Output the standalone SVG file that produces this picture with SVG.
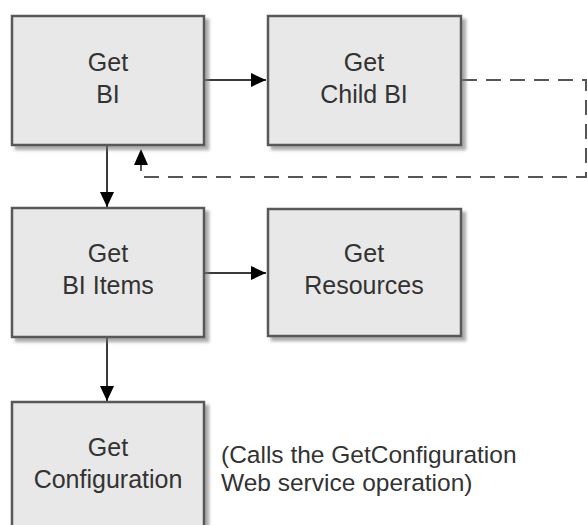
<svg xmlns="http://www.w3.org/2000/svg" width="587" height="525" viewBox="0 0 587 525">
<style>
.box{fill:#e8e8e8;stroke:#595959;stroke-width:2.5;filter:url(#sh)}
.t{font-family:"Liberation Sans",Arial,sans-serif;font-size:25px;fill:#333;text-anchor:middle}
.a{font-family:"Liberation Sans",Arial,sans-serif;font-size:24.5px;fill:#333}
.c{fill:none;stroke:#3a3a3a;stroke-width:2}
.d{fill:none;stroke:#555;stroke-width:2;stroke-dasharray:15 9}
</style>
<defs>
<filter id="sh" x="-10%" y="-10%" width="130%" height="130%">
<feDropShadow dx="4" dy="4" stdDeviation="1.5" flood-color="#777" flood-opacity="0.6"/>
</filter>
<marker id="ah" markerUnits="userSpaceOnUse" markerWidth="16" markerHeight="14" refX="15" refY="7" orient="auto">
<path d="M0,0 L15,7 L0,14 z" fill="#000"/>
</marker>
</defs>
<rect width="587" height="525" fill="#fff"/>
<g id="connectors">
<line class="c" x1="204" y1="80" x2="266" y2="80" marker-end="url(#ah)"/>
<line class="c" x1="107" y1="145" x2="107" y2="207" marker-end="url(#ah)"/>
<line class="c" x1="204" y1="273" x2="266" y2="273" marker-end="url(#ah)"/>
<line class="c" x1="107" y1="337" x2="107" y2="401" marker-end="url(#ah)"/>
<path class="d" d="M462,80 H586 V177 H141 V160"/>
<path d="M134,165 L141,149 L148,165 z" fill="#000"/>
</g>
<g id="get-bi">
<rect class="box" x="12" y="16" width="192" height="129"/>
<text class="t" x="108" y="71">Get</text>
<text class="t" x="108" y="103">BI</text>
</g>
<g id="get-child-bi">
<rect class="box" x="268" y="16" width="193" height="129"/>
<text class="t" x="364" y="71">Get</text>
<text class="t" x="364" y="103">Child BI</text>
</g>
<g id="get-bi-items">
<rect class="box" x="12" y="208" width="192" height="129"/>
<text class="t" x="108" y="262">Get</text>
<text class="t" x="108" y="294">BI Items</text>
</g>
<g id="get-resources">
<rect class="box" x="268" y="209" width="193" height="127"/>
<text class="t" x="364" y="262">Get</text>
<text class="t" x="364" y="294">Resources</text>
</g>
<g id="get-configuration">
<rect class="box" x="12" y="402" width="192" height="140"/>
<text class="t" x="108" y="456">Get</text>
<text class="t" x="108" y="488">Configuration</text>
</g>
<g id="note">
<text class="a" x="221" y="463">(Calls the GetConfiguration</text>
<text class="a" x="221" y="491">Web service operation)</text>
</g>
</svg>
